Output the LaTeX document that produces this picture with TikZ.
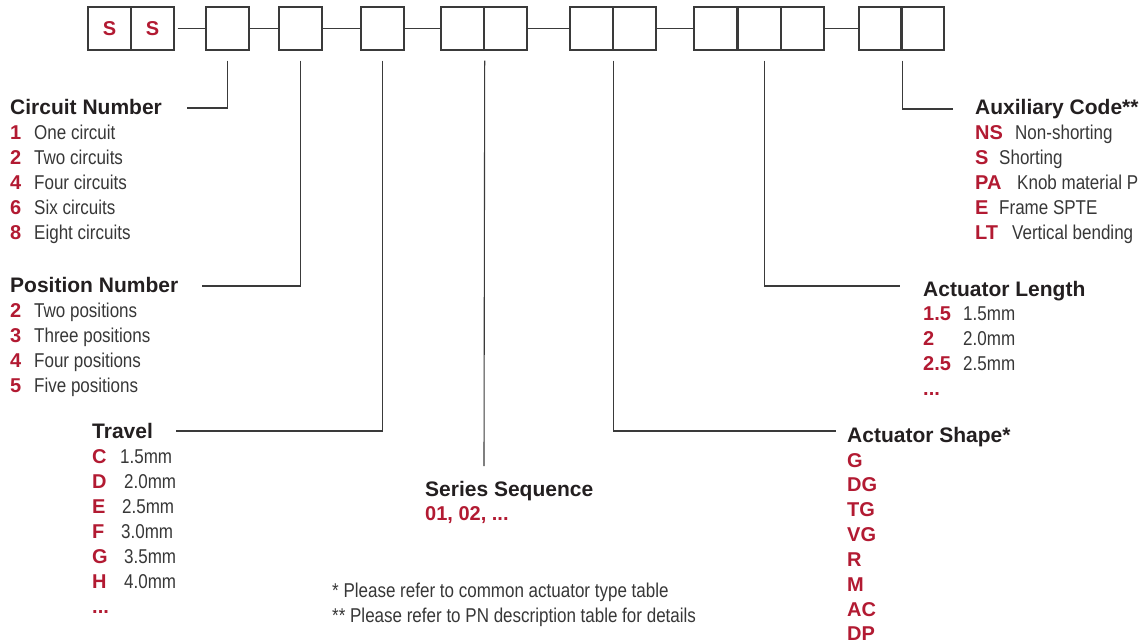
\documentclass[tikz,border=0pt]{standalone}
\usepackage{fontspec}
\setmainfont{Liberation Sans}
\newfontfamily\condfont[FakeStretch=0.85]{Liberation Sans}
\definecolor{keyred}{RGB}{178,26,50}
\definecolor{headgray}{RGB}{35,31,32}
\definecolor{descgray}{RGB}{55,55,55}
\definecolor{linegray}{RGB}{58,58,58}
\tikzset{
    box/.style={draw=linegray, line width=1.4pt, minimum width=43pt, minimum height=43pt, inner sep=0pt,
        font=\bfseries\fontsize{20}{24}\selectfont, text=keyred},
    lead/.style={draw=linegray, line width=1.1pt},
    head/.style={anchor=base west, inner sep=0pt, font=\bfseries\fontsize{21}{24}\selectfont, text=headgray},
    key/.style={anchor=base west, inner sep=0pt, font=\bfseries\fontsize{20}{24}\selectfont, text=keyred},
    desc/.style={anchor=base west, inner sep=0pt, font=\condfont\fontsize{20}{24}\selectfont, text=descgray}
}
\begin{document}
\begin{tikzpicture}[x=1pt, y=-1pt]
    \useasboundingbox (0,0) rectangle (1139,642);

    \node[box] (s1) at (109.5,28.5) {S};
    \node[box] (s2) at (152.5,28.5) {S};
    \node[box] (b1) at (227.5,28.5) {};
    \node[box] (b2) at (300.5,28.5) {};
    \node[box] (b3) at (382.5,28.5) {};
    \node[box] (b4a) at (462.5,28.5) {};
    \node[box] (b4b) at (505.5,28.5) {};
    \node[box] (b5a) at (591.5,28.5) {};
    \node[box] (b5b) at (634.5,28.5) {};
    \node[box] (b6a) at (715.5,28.5) {};
    \node[box] (b6b) at (759.5,28.5) {};
    \node[box] (b6c) at (802.5,28.5) {};
    \node[box] (b7a) at (880.5,28.5) {};
    \node[box] (b7b) at (922.5,28.5) {};

    \draw[lead] ([xshift=3pt]s2.east) -- (b1.west);
    \draw[lead] (b1) -- (b2);
    \draw[lead] (b2) -- (b3);
    \draw[lead] (b3) -- (b4a);
    \draw[lead] (b4b) -- (b5a);
    \draw[lead] (b5b) -- (b6a);
    \draw[lead] (b6c) -- (b7a);

    \coordinate (e1) at (187,108);
    \coordinate (e2) at (202,286);
    \coordinate (e3) at (176,431);
    \coordinate (e4) at (484,466);
    \coordinate (e5) at (836,431);
    \coordinate (e6) at (900,286);
    \coordinate (e7) at (953,109);

    \draw[lead] ([yshift=-10pt]b1.south) |- (e1);
    \draw[lead] ([yshift=-10pt]b2.south) |- (e2);
    \draw[lead] ([yshift=-10pt]b3.south) |- (e3);
    \draw[lead] ([yshift=-10pt]b4a.south east) -- (e4);
    \draw[lead] ([yshift=-10pt]b5a.south east) |- (e5);
    \draw[lead] ([xshift=5pt,yshift=-10pt]b6b.south) |- (e6);
    \draw[lead] ([yshift=-10pt]b7a.south east) |- (e7);

    % circuit number
    \node[head] (hc) at (10,114) {Circuit Number};
    \node[key] (ck1) at (10,139) {1};
    \node[desc] (cd1) at (34,139) {One circuit};
    \node[key] (ck2) at (10,164) {2};
    \node[desc] (cd2) at (34,164) {Two circuits};
    \node[key] (ck3) at (10,189) {4};
    \node[desc] (cd3) at (34,189) {Four circuits};
    \node[key] (ck4) at (10,214) {6};
    \node[desc] (cd4) at (34,214) {Six circuits};
    \node[key] (ck5) at (10,239) {8};
    \node[desc] (cd5) at (34,239) {Eight circuits};

    % position number
    \node[head] (hp) at (10,292) {Position Number};
    \node[key] (pk1) at (10,317) {2};
    \node[desc] (pd1) at (34,317) {Two positions};
    \node[key] (pk2) at (10,342) {3};
    \node[desc] (pd2) at (34,342) {Three positions};
    \node[key] (pk3) at (10,367) {4};
    \node[desc] (pd3) at (34,367) {Four positions};
    \node[key] (pk4) at (10,392) {5};
    \node[desc] (pd4) at (34,392) {Five positions};

    % travel
    \node[head] (ht) at (92,438) {Travel};
    \node[key] (tk1) at (92,463) {C};
    \node[desc] (td1) at (120,463) {1.5mm};
    \node[key] (tk2) at (92,488) {D};
    \node[desc] (td2) at (124,488) {2.0mm};
    \node[key] (tk3) at (92,513) {E};
    \node[desc] (td3) at (122,513) {2.5mm};
    \node[key] (tk4) at (92,538) {F};
    \node[desc] (td4) at (121,538) {3.0mm};
    \node[key] (tk5) at (92,563) {G};
    \node[desc] (td5) at (124,563) {3.5mm};
    \node[key] (tk6) at (92,588) {H};
    \node[desc] (td6) at (124,588) {4.0mm};
    \node[key] (tk7) at (92,613) {...};

    % series sequence
    \node[head] (hs) at (425,496) {Series Sequence};
    \node[key] (sk1) at (425,520) {01, 02, ...};

    \node[desc] (n1) at (332,597) {* Please refer to common actuator type table};
    \node[desc] (n2) at (332,622) {** Please refer to PN description table for details};

    % actuator shape
    \node[head] (ha) at (847,442) {Actuator Shape*};
    \node[key] (ak1) at (847,467) {G};
    \node[key] (ak2) at (847,491) {DG};
    \node[key] (ak3) at (847,516) {TG};
    \node[key] (ak4) at (847,541) {VG};
    \node[key] (ak5) at (847,566) {R};
    \node[key] (ak6) at (847,591) {M};
    \node[key] (ak7) at (847,616) {AC};
    \node[key] (ak8) at (847,640) {DP};

    % actuator length
    \node[head] (hl) at (923,296) {Actuator Length};
    \node[key] (lk1) at (923,320) {1.5};
    \node[desc] (ld1) at (963,320) {1.5mm};
    \node[key] (lk2) at (923,345) {2};
    \node[desc] (ld2) at (963,345) {2.0mm};
    \node[key] (lk3) at (923,370) {2.5};
    \node[desc] (ld3) at (963,370) {2.5mm};
    \node[key] (lk4) at (923,395) {...};

    % auxiliary code
    \node[head] (hx) at (975,114) {Auxiliary Code**};
    \node[key] (xk1) at (975,139) {NS};
    \node[desc] (xd1) at (1015,139) {Non-shorting};
    \node[key] (xk2) at (975,164) {S};
    \node[desc] (xd2) at (999,164) {Shorting};
    \node[key] (xk3) at (975,189) {PA};
    \node[desc] (xd3) at (1017,189) {Knob material P};
    \node[key] (xk4) at (975,214) {E};
    \node[desc] (xd4) at (999,214) {Frame SPTE};
    \node[key] (xk5) at (975,239) {LT};
    \node[desc] (xd5) at (1012,239) {Vertical bending};
\end{tikzpicture}
\end{document}
